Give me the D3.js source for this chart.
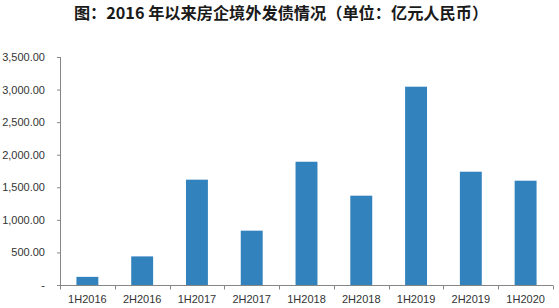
<!DOCTYPE html>
<html>
    <head>
        <meta charset="utf-8">
        <title>房企境外发债情况</title>
        <script src="https://d3js.org/d3.v7.min.js"></script>
        <style>
            body { margin: 0; background: #fff; }
            text { font-family: "Liberation Sans", "Noto Sans CJK SC", sans-serif; }
        </style>
    </head>
    <body>
        <script>
            var periods = ["1H2016", "2H2016", "1H2017", "2H2017", "1H2018", "2H2018", "1H2019", "2H2019", "1H2020"];
            var amounts = [125, 439, 1617, 834, 1892, 1371, 3044, 1739, 1601];
            var y_ticks = [0, 500, 1000, 1500, 2000, 2500, 3000, 3500];
            var title = "图：2016 年以来房企境外发债情况（单位：亿元人民币）";

            var width = 559;
            var height = 308;
            // plot area edges (note: "top" would clash with window.top)
            var plot_left = 60, plot_right = 553, plot_top = 57, plot_bottom = 285;
            var axis_color = "#868686";

            var svg = d3.select("body").append("svg")
                .attr("width", width)
                .attr("height", height);

            svg.append("text")
                .attr("x", 281)
                .attr("y", 19)
                .attr("text-anchor", "middle")
                .style("font-family", "'Noto Sans CJK SC', sans-serif")
                .style("font-size", "16.2px")
                .style("font-weight", "bold")
                .style("fill", "#1a1a1a")
                .text(title);

            var x = d3.scaleBand()
                .domain(periods)
                .range([plot_left, plot_right])
                .paddingInner(0.6)
                .paddingOuter(0.3);

            var y = d3.scaleLinear()
                .domain([0, 3500])
                .range([plot_bottom, plot_top]);

            // bars
            svg.selectAll("rect.bar")
                .data(amounts)
                .enter()
                .append("rect")
                .attr("class", "bar")
                .attr("x", function (d, i) { return x(periods[i]); })
                .attr("y", function (d) { return y(d); })
                .attr("width", x.bandwidth())
                .attr("height", function (d) { return plot_bottom - y(d); })
                .style("fill", "#3182bd");

            // y axis
            var fmt = d3.format(",.2f");
            var y_axis = d3.axisLeft(y)
                .tickValues(y_ticks)
                .tickSize(3)
                .tickPadding(12)
                .tickFormat(function (d) { return d === 0 ? "-" : fmt(d); });

            var gy = svg.append("g")
                .attr("transform", "translate(" + plot_left + ",0)")
                .call(y_axis);
            gy.select(".domain").attr("stroke", axis_color).attr("d", "M0.5," + plot_top + "V" + plot_bottom);
            gy.selectAll(".tick line").attr("stroke", axis_color);
            gy.selectAll(".tick text")
                .style("font-size", "11px")
                .style("fill", "#333");

            // x axis with ticks between categories
            var gx = svg.append("g")
                .attr("transform", "translate(0," + (plot_bottom + 0.5) + ")");
            gx.append("line")
                .attr("x1", plot_left).attr("x2", plot_right)
                .attr("stroke", axis_color);
            var bounds = d3.range(periods.length + 1).map(function (i) {
                return Math.round(plot_left + i * x.step()) + 0.5;
            });
            gx.selectAll("line.sep")
                .data(bounds)
                .enter()
                .append("line")
                .attr("class", "sep")
                .attr("x1", function (d) { return d; })
                .attr("x2", function (d) { return d; })
                .attr("y1", 0)
                .attr("y2", 4)
                .attr("stroke", axis_color);
            gx.selectAll("text")
                .data(periods)
                .enter()
                .append("text")
                .attr("x", function (d) { return x(d) + x.bandwidth() / 2; })
                .attr("y", 17)
                .attr("text-anchor", "middle")
                .style("font-size", "11px")
                .style("fill", "#333")
                .text(function (d) { return d; });
        </script>
    </body>
</html>
